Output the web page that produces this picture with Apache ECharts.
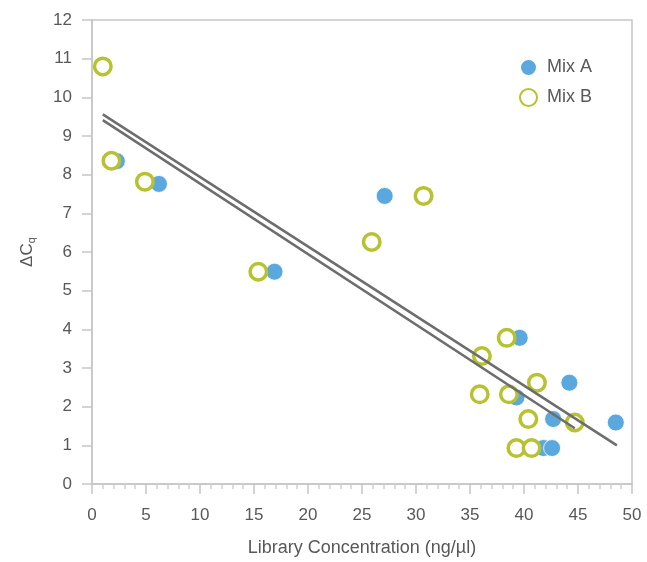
<!DOCTYPE html>
<html>
<head>
<meta charset="utf-8">
<script src="https://cdn.jsdelivr.net/npm/echarts@6/dist/echarts.min.js"></script>
<style>html,body{margin:0;padding:0;background:#fff}#c{width:647px;height:562px}</style>
</head>
<body>
<div id="c"></div>
<script>
const seriesNames = ['Mix A', 'Mix B'];
const mixA = [[2.3,8.35],[6.2,7.76],[16.9,5.49],[27.1,7.45],[39.6,3.78],[39.3,2.24],[44.2,2.62],[42.7,1.68],[48.5,1.59],[41.8,0.93],[42.6,0.93]];
const mixB = [[1.0,10.8],[1.8,8.36],[4.9,7.82],[15.4,5.49],[25.9,6.26],[30.7,7.45],[36.1,3.31],[35.9,2.32],[38.4,3.78],[38.6,2.32],[41.2,2.62],[40.4,1.68],[44.7,1.59],[39.3,0.93],[40.7,0.93]];
const fitA = [[1.0,9.56],[48.6,1.0]];
const fitB = [[1.0,9.41],[44.7,1.44]];
const xTicks = {min:0, max:50, interval:5};
const yTicks = {min:0, max:12, interval:1};

const font = 'Liberation Sans, Arial, Helvetica, sans-serif';
const txt = '#585858';
const chart = echarts.init(document.getElementById('c'));
chart.setOption({
  animation:false,
  textStyle:{fontFamily:font},
  grid:{left:92,right:15,top:20,bottom:72,show:true,borderColor:'#c6c6c6',borderWidth:1.5},
  legend:{
    orient:'vertical', left:514, top:53, itemWidth:17, itemHeight:17, itemGap:11,
    textStyle:{fontSize:18,color:txt,fontFamily:font,padding:[0,0,0,5]},
    data:[{name:seriesNames[0],icon:'circle'},{name:seriesNames[1],icon:'circle'}]
  },
  xAxis:{
    type:'value', min:xTicks.min, max:xTicks.max, interval:xTicks.interval,
    name:'Library Concentration (ng/µl)', nameLocation:'middle', nameGap:55,
    nameTextStyle:{fontSize:18,color:txt},
    axisLine:{lineStyle:{color:'#c6c6c6',width:1.5}},
    axisTick:{length:10,lineStyle:{color:'#c6c6c6',width:1.5}},
    minorTick:{show:true,splitNumber:5,length:5,lineStyle:{color:'#cfcfcf',width:1.5}},
    splitLine:{show:false},
    axisLabel:{fontSize:17,color:txt,margin:23}
  },
  yAxis:{
    type:'value', min:yTicks.min, max:yTicks.max, interval:yTicks.interval,
    name:'{a|ΔC}{b|q}', nameLocation:'middle', nameGap:55, nameRotate:90,
    nameTextStyle:{rich:{a:{fontSize:17,color:txt,fontFamily:font},b:{fontSize:11,color:txt,verticalAlign:'bottom',padding:[9,0,0,0],fontFamily:font}}},
    axisLine:{show:true,lineStyle:{color:'#c6c6c6',width:1.5}},
    axisTick:{show:true,length:10,lineStyle:{color:'#c6c6c6',width:1.5}},
    splitLine:{show:false},
    axisLabel:{fontSize:17,color:txt,margin:20}
  },
  series:[
    {name:seriesNames[0],type:'scatter',data:mixA,symbolSize:17,itemStyle:{color:'#5aa8dd',opacity:1,borderColor:'#fff',borderWidth:0.8},z:2},
    {name:seriesNames[1],type:'scatter',data:mixB,symbolSize:16.5,itemStyle:{color:'#fff',opacity:1,borderColor:'#b6c22e',borderWidth:3.5},z:3},
    {type:'line',data:fitA,showSymbol:false,symbol:'none',lineStyle:{color:'#6d6d6d',width:2.5},z:4,silent:true},
    {type:'line',data:fitB,showSymbol:false,symbol:'none',lineStyle:{color:'#6d6d6d',width:2.5},z:4,silent:true}
  ]
});
</script>
</body>
</html>
